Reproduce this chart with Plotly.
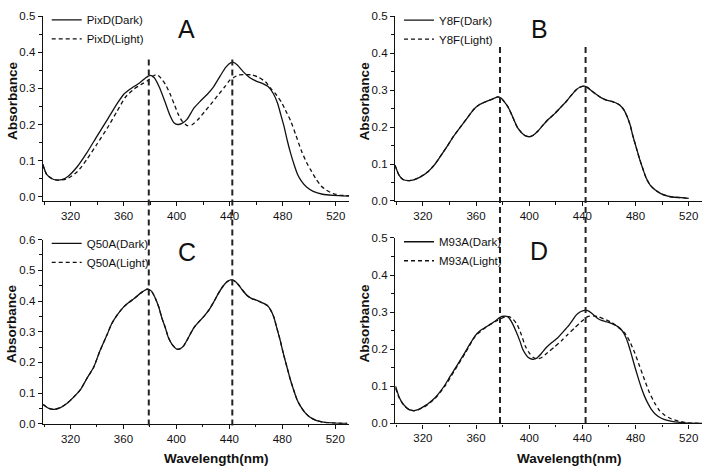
import plotly.graph_objects as go

# ---------------- data ----------------
# Panel A: PixD
pixd_dark_wl = [299, 302, 306, 310, 314, 318, 325, 332, 340, 348, 355, 360, 365, 372, 377, 380, 383, 387, 391, 395, 398, 401, 404, 408, 413, 418, 423, 428, 433, 437, 441, 443, 446, 450, 455, 460, 465, 469, 473, 476, 478.5, 481, 483.5, 486, 488.5, 491, 494, 498, 503, 510, 518, 530]
pixd_dark_abs = [0.09, 0.062, 0.05, 0.046, 0.048, 0.056, 0.083, 0.12, 0.168, 0.215, 0.257, 0.283, 0.298, 0.315, 0.33, 0.336, 0.33, 0.303, 0.265, 0.225, 0.205, 0.2, 0.203, 0.215, 0.245, 0.265, 0.283, 0.305, 0.335, 0.358, 0.371, 0.372, 0.364, 0.347, 0.33, 0.32, 0.313, 0.305, 0.285, 0.26, 0.228, 0.195, 0.155, 0.12, 0.09, 0.064, 0.044, 0.027, 0.015, 0.007, 0.004, 0.002]
pixd_light_wl = [299, 302, 306, 311, 317.5, 325, 332.6, 340, 347.7, 355, 361.5, 367.8, 373, 378, 382, 384.5, 387, 391.7, 395, 398, 401, 404, 408, 412, 416, 421, 426, 431, 436, 440, 443, 447, 452, 457, 462, 467, 471, 475, 479, 482, 486, 490, 494, 498, 501, 505, 509, 513, 518, 524, 530]
pixd_light_abs = [0.09, 0.062, 0.05, 0.046, 0.05, 0.069, 0.105, 0.146, 0.19, 0.236, 0.276, 0.298, 0.31, 0.321, 0.333, 0.338, 0.333, 0.31, 0.285, 0.258, 0.23, 0.21, 0.197, 0.2, 0.213, 0.235, 0.257, 0.28, 0.303, 0.322, 0.33, 0.337, 0.338, 0.337, 0.33, 0.318, 0.3, 0.283, 0.262, 0.24, 0.21, 0.17, 0.128, 0.095, 0.075, 0.05, 0.03, 0.018, 0.009, 0.004, 0.003]

# Panel B: Y8F (dark and light overlap)
y8f_wl = [299, 302, 305, 309, 313, 318.5, 324, 328.5, 333, 338.6, 343, 348.6, 354, 358.7, 363, 368.7, 373, 376.5, 379, 381, 384, 386.3, 391.3, 396.4, 400, 403, 406.4, 410, 414, 419, 424, 428, 431.6, 435, 438, 441.6, 444, 447, 450, 454, 458, 462, 465, 468, 471, 473.5, 476, 478, 480.5, 483, 485.5, 488, 491, 494.4, 499, 504.4, 509, 514.5, 520]
y8f_dark_abs = [0.097, 0.07, 0.058, 0.055, 0.057, 0.066, 0.08, 0.097, 0.12, 0.15, 0.175, 0.202, 0.228, 0.25, 0.262, 0.271, 0.277, 0.282, 0.278, 0.27, 0.255, 0.238, 0.198, 0.178, 0.174, 0.178, 0.189, 0.204, 0.22, 0.236, 0.255, 0.27, 0.286, 0.3, 0.308, 0.311, 0.307, 0.298, 0.29, 0.28, 0.273, 0.27, 0.266, 0.26, 0.248, 0.23, 0.205, 0.176, 0.145, 0.114, 0.087, 0.062, 0.043, 0.031, 0.02, 0.013, 0.01, 0.009, 0.007]
y8f_light_abs = [0.097, 0.07, 0.058, 0.055, 0.057, 0.066, 0.08, 0.097, 0.12, 0.15, 0.175, 0.202, 0.228, 0.25, 0.262, 0.271, 0.277, 0.282, 0.278, 0.27, 0.255, 0.238, 0.198, 0.178, 0.174, 0.178, 0.189, 0.204, 0.22, 0.236, 0.255, 0.27, 0.286, 0.3, 0.308, 0.311, 0.307, 0.298, 0.29, 0.28, 0.273, 0.27, 0.266, 0.26, 0.248, 0.23, 0.205, 0.176, 0.145, 0.114, 0.087, 0.062, 0.043, 0.031, 0.02, 0.013, 0.01, 0.009, 0.007]

# Panel C: Q50A (dark and light overlap)
q50a_wl = [299.4, 303.6, 307.4, 312, 317.5, 322, 327.5, 332, 337.6, 342, 347.7, 351, 355.2, 360.2, 364, 367.8, 374, 378, 381, 384, 386.6, 389, 391.7, 394, 396.7, 400.5, 403, 405.5, 409, 413, 416.5, 420.6, 424.5, 428.2, 431.5, 434.5, 438, 441, 444, 447, 450, 453.4, 457, 460.9, 464.5, 468.5, 471, 473.5, 476, 478.5, 481, 483.5, 486, 488.5, 491, 493.6, 497, 501, 506, 511, 520, 529]
q50a_dark_abs = [0.063, 0.05, 0.047, 0.052, 0.067, 0.085, 0.111, 0.145, 0.185, 0.235, 0.291, 0.325, 0.354, 0.381, 0.395, 0.407, 0.429, 0.439, 0.433, 0.41, 0.381, 0.345, 0.312, 0.28, 0.259, 0.243, 0.245, 0.254, 0.28, 0.312, 0.33, 0.349, 0.37, 0.397, 0.423, 0.444, 0.462, 0.469, 0.465, 0.452, 0.435, 0.418, 0.408, 0.402, 0.395, 0.386, 0.372, 0.349, 0.31, 0.27, 0.225, 0.185, 0.145, 0.111, 0.08, 0.058, 0.037, 0.021, 0.01, 0.005, 0.002, 0.001]
q50a_light_abs = [0.063, 0.05, 0.047, 0.052, 0.067, 0.085, 0.111, 0.145, 0.185, 0.235, 0.291, 0.325, 0.354, 0.381, 0.395, 0.407, 0.429, 0.439, 0.433, 0.41, 0.381, 0.345, 0.312, 0.28, 0.259, 0.243, 0.245, 0.254, 0.28, 0.312, 0.33, 0.349, 0.37, 0.397, 0.423, 0.444, 0.462, 0.469, 0.465, 0.452, 0.435, 0.418, 0.408, 0.402, 0.395, 0.386, 0.372, 0.349, 0.31, 0.27, 0.225, 0.185, 0.145, 0.111, 0.08, 0.058, 0.037, 0.021, 0.01, 0.005, 0.002, 0.001]

# Panel D: M93A
m93a_dark_wl = [299.5, 302, 304.2, 307, 309.2, 312, 314.2, 318, 321.7, 325.5, 329.3, 333, 336.8, 340.5, 344.4, 348, 351.9, 355.5, 359.4, 363, 367, 371, 374.5, 378.3, 381, 383.8, 386.5, 390.1, 393, 395.1, 398, 400.1, 403, 405.2, 409, 412.7, 417, 421.5, 425, 429, 432.5, 435.3, 438.5, 441.6, 444, 447, 451.6, 455, 459.2, 463, 466.7, 469.5, 471.8, 474.5, 476.8, 479.3, 481.8, 484.3, 486.8, 489.3, 491.9, 495, 499.4, 504, 509.5, 515, 520, 530]
m93a_dark_abs = [0.1, 0.072, 0.057, 0.045, 0.038, 0.035, 0.035, 0.04, 0.048, 0.058, 0.07, 0.086, 0.105, 0.127, 0.149, 0.17, 0.193, 0.215, 0.237, 0.25, 0.259, 0.268, 0.276, 0.287, 0.289, 0.288, 0.275, 0.248, 0.222, 0.2, 0.183, 0.176, 0.173, 0.175, 0.188, 0.204, 0.218, 0.231, 0.245, 0.261, 0.278, 0.292, 0.301, 0.305, 0.304, 0.297, 0.283, 0.277, 0.273, 0.268, 0.261, 0.252, 0.239, 0.215, 0.187, 0.155, 0.125, 0.097, 0.073, 0.054, 0.038, 0.025, 0.014, 0.008, 0.004, 0.002, 0.001, 0.0]
m93a_light_wl = [299.5, 302, 304.5, 307, 310, 313, 316, 321.7, 329.3, 336.8, 344.4, 351.9, 359.4, 367, 374.5, 379, 382, 385, 388, 391, 394, 397, 400, 403, 406, 409, 413.9, 419, 424, 429, 434, 439, 444, 448, 451.6, 456, 461.7, 466, 471.8, 475.5, 479.3, 483, 486.8, 490.5, 494.4, 498, 502, 507, 512, 517, 522, 530]
m93a_light_abs = [0.095, 0.07, 0.055, 0.044, 0.037, 0.034, 0.036, 0.046, 0.068, 0.102, 0.146, 0.19, 0.235, 0.258, 0.275, 0.283, 0.287, 0.288, 0.28, 0.266, 0.24, 0.209, 0.19, 0.178, 0.174, 0.177, 0.191, 0.206, 0.222, 0.24, 0.257, 0.274, 0.288, 0.29, 0.288, 0.282, 0.273, 0.262, 0.244, 0.222, 0.191, 0.155, 0.117, 0.083, 0.055, 0.035, 0.022, 0.012, 0.007, 0.003, 0.001, 0.0]

# reference wavelengths (vertical dashed lines)
ref_lines_left = [379, 442]
ref_lines_right = [378, 442.4]

panel_letters = ["A", "B", "C", "D"]
legend_names = [("PixD(Dark)", "PixD(Light)"), ("Y8F(Dark)", "Y8F(Light)"),
                ("Q50A(Dark)", "Q50A(Light)"), ("M93A(Dark)", "M93A(Light)")]
x_range = [299, 530]
y_ranges = [[-0.0115, 0.5], [0, 0.5], [0, 0.6], [0, 0.5]]

# ---------------- figure ----------------
W, H = 708, 474
FONT = "Liberation Sans, Arial, sans-serif"
INK = "#111111"

def px(x):
    return x / W

def py(y):
    return 1 - y / H

# plot-area pixel boxes (left, right, top, bottom)
boxes = [(42.7, 349, 10.3, 200), (395, 702, 10.7, 200),
         (42.7, 348.5, 239.7, 428.6), (395, 702, 238, 428.3)]

series = [
    (pixd_dark_wl, pixd_dark_abs, pixd_light_wl, pixd_light_abs),
    (y8f_wl, y8f_dark_abs, y8f_wl, y8f_light_abs),
    (q50a_wl, q50a_dark_abs, q50a_wl, q50a_light_abs),
    (m93a_dark_wl, m93a_dark_abs, m93a_light_wl, m93a_light_abs),
]

fig = go.Figure()
for i, (dw, da, lw, la) in enumerate(series):
    sfx = "" if i == 0 else str(i + 1)
    lg = "legend" + sfx
    fig.add_trace(go.Scatter(x=dw, y=da, mode="lines", name=legend_names[i][0],
                             line=dict(color=INK, width=1.3, shape="spline", smoothing=0.6),
                             xaxis="x" + sfx, yaxis="y" + sfx, legend=lg))
    fig.add_trace(go.Scatter(x=lw, y=la, mode="lines", name=legend_names[i][1],
                             line=dict(color=INK, width=1.3, dash="4px,3px", shape="spline", smoothing=0.6),
                             xaxis="x" + sfx, yaxis="y" + sfx, legend=lg))

layout = dict(width=W, height=H, margin=dict(l=0, r=0, t=0, b=0),
              paper_bgcolor="white", plot_bgcolor="white",
              font=dict(family=FONT, color=INK, size=11.5))

axis_common = dict(showline=True, linecolor=INK, linewidth=1.2, showgrid=False, zeroline=False,
                   ticks="outside", ticklen=4, tickwidth=1.1, tickcolor=INK,
                   tickfont=dict(family=FONT, size=11.5, color=INK))

annotations = []
shapes = []
for i, (l, r, t, b) in enumerate(boxes):
    sfx = "" if i == 0 else str(i + 1)
    layout["xaxis" + sfx] = dict(axis_common, domain=[px(l), px(r)], range=x_range,
                                 dtick=40, tick0=0, anchor="y" + sfx,
                                 minor=dict(dtick=20, ticklen=2.5, tickwidth=1, tickcolor=INK, ticks="outside"))
    layout["yaxis" + sfx] = dict(axis_common, domain=[py(b), py(t)], range=y_ranges[i],
                                 dtick=0.1, tick0=0, tickformat=".1f", anchor="x" + sfx,
                                 minor=dict(dtick=0.05, ticklen=2.5, tickwidth=1, tickcolor=INK, ticks="outside"))
    # legend
    layout["legend" + sfx] = dict(x=px(l + 4), y=py(t - 11), xanchor="left", yanchor="top",
                                  bgcolor="rgba(0,0,0,0)", borderwidth=0,
                                  font=dict(family=FONT, size=11.5, color=INK),
                                  itemwidth=30, tracegroupgap=0)
    # panel letter
    annotations.append(dict(text=panel_letters[i], x=px(l + 144), y=py(t + 13),
                            xref="paper", yref="paper", xanchor="center", yanchor="middle",
                            showarrow=False, font=dict(family=FONT, size=25, color=INK)))
    # y-axis title
    annotations.append(dict(text="Absorbance", x=px(l - 30.5), y=py((t + b) / 2 - 8),
                            xref="paper", yref="paper", xanchor="center", yanchor="middle",
                            showarrow=False, textangle=-90,
                            font=dict(family=FONT, size=13.5, color=INK, weight="bold")))
    if i >= 2:
        annotations.append(dict(text="Wavelength(nm)", x=px((l + r) / 2 + 21), y=py(464),
                                xref="paper", yref="paper", xanchor="center", yanchor="middle",
                                showarrow=False,
                                font=dict(family=FONT, size=13.5, color=INK, weight="bold")))

# vertical dashed reference lines spanning both rows of each column
for wl in ref_lines_left:
    shapes.append(dict(type="line", xref="x", yref="paper", x0=wl, x1=wl,
                       y0=py(55), y1=py(431), line=dict(color="#222222", width=2, dash="6px,4px"),
                       layer="above"))
for wl in ref_lines_right:
    shapes.append(dict(type="line", xref="x2", yref="paper", x0=wl, x1=wl,
                       y0=py(42), y1=py(431), line=dict(color="#222222", width=2, dash="6px,4px"),
                       layer="above"))

layout["annotations"] = annotations
layout["shapes"] = shapes
layout["showlegend"] = True
fig.update_layout(**layout)

fig.write_html("out.html", config={"displayModeBar": False},
               post_script="document.body.style.margin='0px';document.body.style.overflow='hidden';")
